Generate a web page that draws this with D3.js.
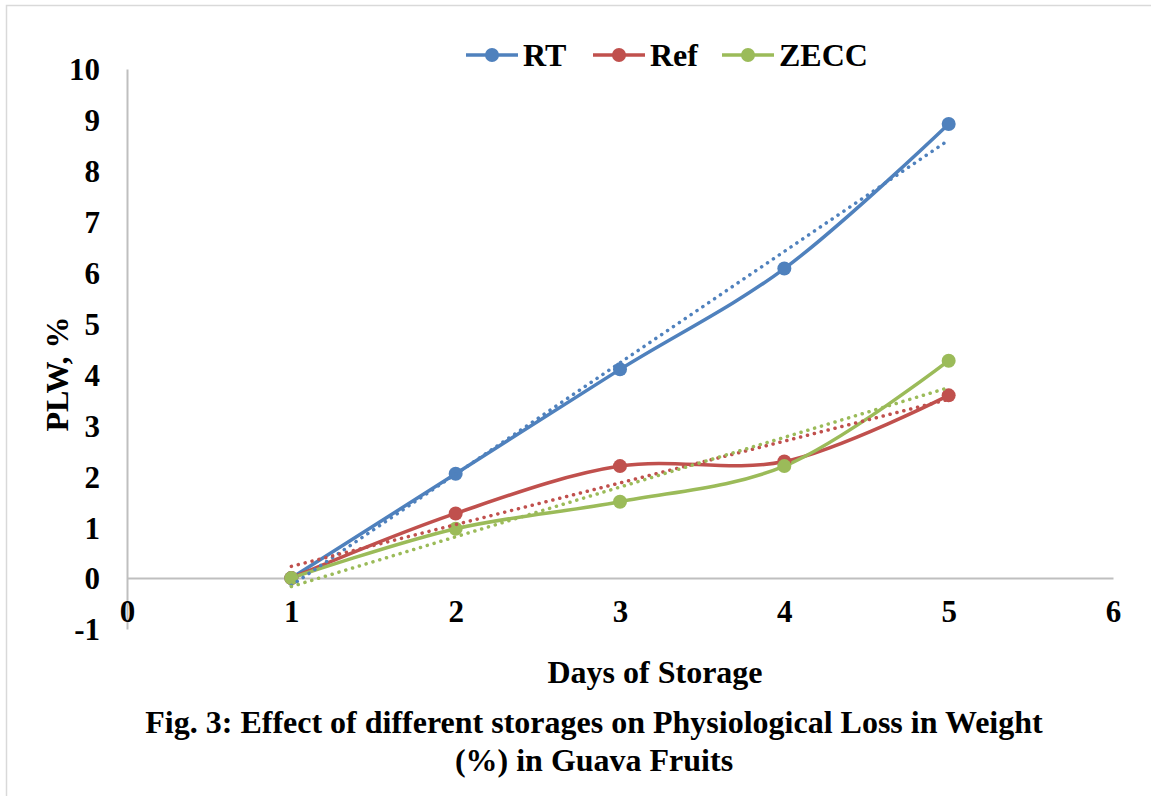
<!DOCTYPE html>
<html>
<head>
<meta charset="utf-8">
<script src="https://cdn.jsdelivr.net/npm/d3@7"></script>
<style>
body { margin: 0; background: #fff; }
text { font-family: "Liberation Serif", "Times New Roman", serif; font-weight: bold; fill: #000; }
</style>
</head>
<body>
<div id="chart"></div>
<script>
var days = [1, 2, 3, 4, 5];
var seriesNames = ["RT", "Ref", "ZECC"];
var seriesColors = ["#4f81bd", "#c0504d", "#9bbb59"];
var rtValues = [0, 2.05, 4.1, 6.08, 8.92];
var refValues = [0, 1.27, 2.2, 2.29, 3.59];
var zeccValues = [0, 0.97, 1.5, 2.2, 4.27];
var xTicks = [0, 1, 2, 3, 4, 5, 6];
var yTicks = [-1, 0, 1, 2, 3, 4, 5, 6, 7, 8, 9, 10];

var width = 1151, height = 796;

var svg = d3.select("#chart").append("svg")
    .attr("width", width)
    .attr("height", height);

// chart border
svg.append("rect")
    .attr("x", 6.5).attr("y", 5.5)
    .attr("width", width + 10).attr("height", height + 10)
    .attr("fill", "none")
    .attr("stroke", "#d9d9d9")
    .attr("stroke-width", 1.5);

var x = d3.scaleLinear().domain([0, 6]).range([127, 1113]);
var y = d3.scaleLinear().domain([-1, 10]).range([629, 69]);

// plain hyphen minus like the original
var plain = function (d) { return String(d); };

// y axis
var yAxis = svg.append("g")
    .attr("transform", "translate(" + x(0) + ",0)")
    .call(d3.axisLeft(y).tickValues(yTicks).tickSize(0).tickPadding(27).tickFormat(plain));
yAxis.select(".domain").attr("stroke", "#bfbfbf").attr("stroke-width", 2);
yAxis.selectAll("text").style("font-size", "31px")
    .attr("font-family", null).attr("dy", "0.35em");

// x axis at 0
var xAxis = svg.append("g")
    .attr("transform", "translate(0," + y(0) + ")")
    .call(d3.axisBottom(x).tickValues(xTicks).tickSize(0).tickPadding(22).tickFormat(plain));
xAxis.select(".domain").attr("stroke", "#bfbfbf").attr("stroke-width", 2);
xAxis.selectAll("text").style("font-size", "31px")
    .attr("font-family", null);

var allValues = [rtValues, refValues, zeccValues];

// smoothed series lines
var line = d3.line()
    .x(function (d, i) { return x(days[i]); })
    .y(function (d) { return y(d); })
    .curve(d3.curveCatmullRom.alpha(0.5));

allValues.forEach(function (vals, s) {
    svg.append("path")
        .datum(vals)
        .attr("d", line)
        .attr("fill", "none")
        .attr("stroke", seriesColors[s])
        .attr("stroke-width", 3.5)
        .attr("stroke-linecap", "round");
});

// markers
allValues.forEach(function (vals, s) {
    svg.append("g").selectAll("circle")
        .data(vals)
        .enter().append("circle")
        .attr("cx", function (d, i) { return x(days[i]); })
        .attr("cy", function (d) { return y(d); })
        .attr("r", 7)
        .attr("fill", seriesColors[s]);
});

// linear trendlines (least squares from the series)
function linearFit(vals) {
    var mx = d3.mean(days), my = d3.mean(vals);
    var num = 0, den = 0;
    for (var i = 0; i < days.length; i++) {
        num += (days[i] - mx) * (vals[i] - my);
        den += (days[i] - mx) * (days[i] - mx);
    }
    var slope = num / den;
    return function (t) { return my + slope * (t - mx); };
}

allValues.forEach(function (vals, s) {
    var f = linearFit(vals);
    var x0 = d3.min(days), x1 = d3.max(days);
    svg.append("line")
        .attr("x1", x(x0)).attr("y1", y(f(x0)))
        .attr("x2", x(x1)).attr("y2", y(f(x1)))
        .attr("stroke", seriesColors[s])
        .attr("stroke-width", 3.5)
        .attr("stroke-linecap", "round")
        .attr("stroke-dasharray", "0.1 7");
});

// legend
var legendX = [466, 593, 722];
var legend = svg.append("g");
seriesNames.forEach(function (name, s) {
    var g = legend.append("g").attr("transform", "translate(" + legendX[s] + ",55)");
    g.append("line").attr("x1", 0).attr("x2", 52).attr("y1", 0).attr("y2", 0)
        .attr("stroke", seriesColors[s]).attr("stroke-width", 3.5);
    g.append("circle").attr("cx", 26).attr("cy", 0).attr("r", 7).attr("fill", seriesColors[s]);
    g.append("text").attr("x", 57).attr("y", 0).attr("dy", "0.35em")
        .style("font-size", "32px").text(name);
});

// axis titles
svg.append("text")
    .attr("transform", "translate(68,374) rotate(-90)")
    .attr("text-anchor", "middle")
    .style("font-size", "32px")
    .text("PLW, %");

svg.append("text")
    .attr("x", 655).attr("y", 683)
    .attr("text-anchor", "middle")
    .style("font-size", "32px")
    .text("Days of Storage");

// caption
svg.append("text")
    .attr("x", 594).attr("y", 733)
    .attr("text-anchor", "middle")
    .style("font-size", "32px")
    .text("Fig. 3: Effect of different storages on Physiological Loss in Weight");
svg.append("text")
    .attr("x", 594).attr("y", 771)
    .attr("text-anchor", "middle")
    .style("font-size", "32px")
    .text("(%) in Guava Fruits");
</script>
</body>
</html>
